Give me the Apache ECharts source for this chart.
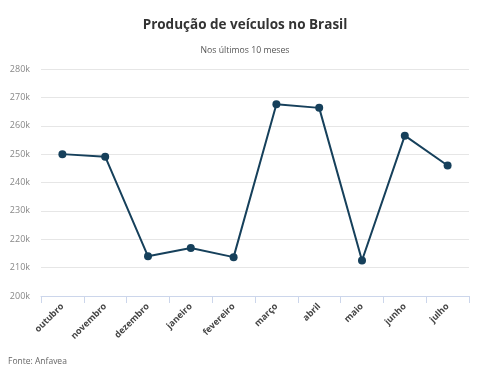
<!DOCTYPE html>
<html><head><meta charset="utf-8">
<script src="https://cdn.jsdelivr.net/npm/echarts@6/dist/echarts.min.js"></script>
<style>html,body{margin:0;padding:0;background:#fff}#c{width:497px;height:380px}</style>
</head><body><div id="c"></div>
<script>
const categories = ['outubro','novembro','dezembro','janeiro','fevereiro','março','abril','maio','junho','julho'];
const producao = [250000, 249100, 214000, 216900, 213700, 267600, 266300, 212500, 256500, 246000];
const yTicks = {min: 200000, max: 280000, interval: 10000};
const titleText = 'Produção de veículos no Brasil';
const subtitleText = 'Nos últimos 10 meses';
const sourceText = 'Fonte: Anfavea';

const chart = echarts.init(document.getElementById('c'));
chart.setOption({
  animation: false,
  textStyle: {fontFamily: 'Open Sans'},
  title: [
    {text: titleText, left: 240, top: 13, textAlign: 'center',
     textStyle: {fontFamily: 'Open Sans', fontSize: 13.5, fontWeight: 'bold', color: '#333'}},
    {text: subtitleText, left: 240, top: 41, textAlign: 'center',
     textStyle: {fontFamily: 'Open Sans', fontSize: 8.7, fontWeight: 'normal', color: '#555'}},
    {text: sourceText, left: 3, top: 352,
     textStyle: {fontFamily: 'Open Sans', fontSize: 8.5, fontWeight: 'normal', color: '#666'}}
  ],
  grid: {left: 41, right: 28, top: 69, bottom: 84},
  xAxis: {
    type: 'category', data: categories, boundaryGap: true,
    axisLine: {lineStyle: {color: '#ccd6eb', width: 1}},
    axisTick: {show: true, length: 7, lineStyle: {color: '#ccd6eb'}},
    axisLabel: {rotate: 45, fontSize: 9, fontWeight: 'bold', color: '#444', margin: 9, fontFamily: 'Open Sans'}
  },
  yAxis: {
    type: 'value', min: yTicks.min, max: yTicks.max, interval: yTicks.interval,
    axisLine: {show: false}, axisTick: {show: false},
    splitLine: {lineStyle: {color: '#e6e6e6'}},
    axisLabel: {fontSize: 9, color: '#888', margin: 11, fontFamily: 'Open Sans',
      formatter: v => (v / 1000) + 'k'}
  },
  series: [{
    type: 'line', data: producao,
    symbol: 'circle', symbolSize: 8,
    lineStyle: {color: '#16405b', width: 2},
    itemStyle: {color: '#16405b'}
  }]
});
</script></body></html>
